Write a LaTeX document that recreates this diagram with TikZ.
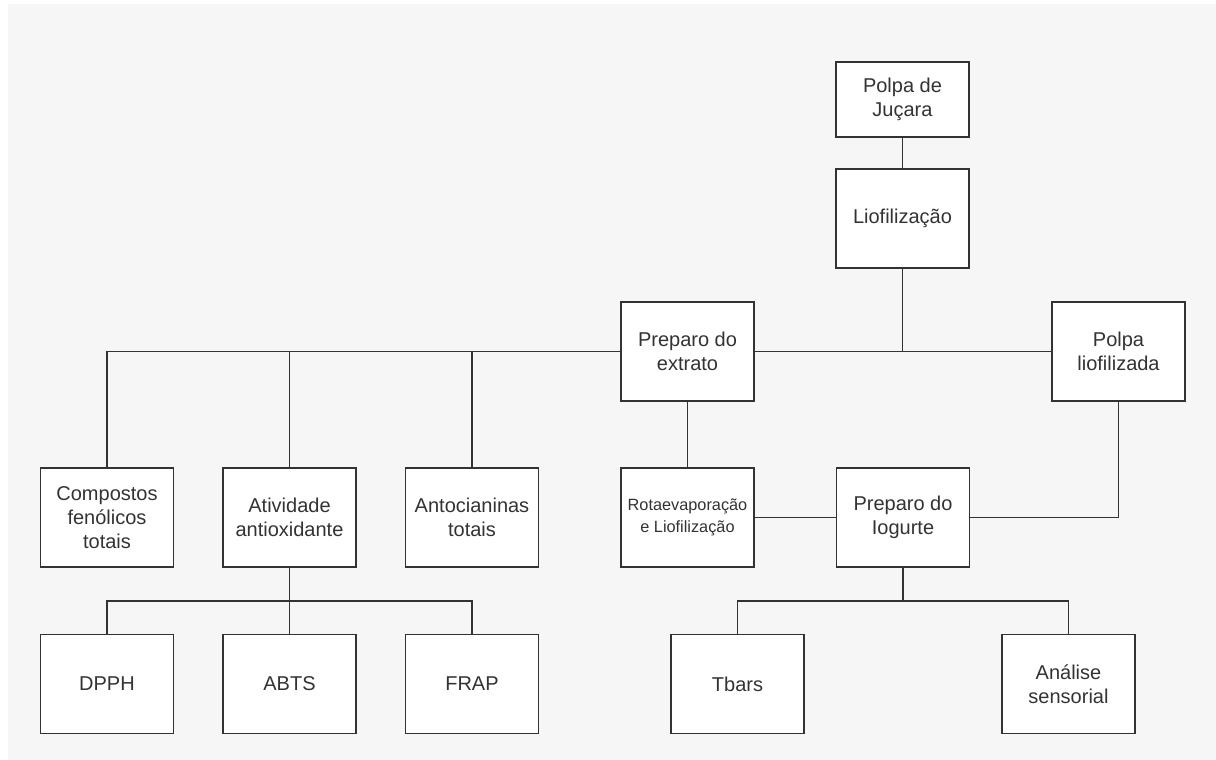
\documentclass[tikz,border=0pt]{standalone}
\usepackage{fontspec}
\setmainfont{Liberation Sans}
\definecolor{bggray}{HTML}{F6F6F6}
\definecolor{ink}{HTML}{333333}
\begin{document}
\begin{tikzpicture}[x=1pt,y=-1pt,
  box/.style={draw=ink, fill=white, line width=1.6pt, minimum width=133pt, minimum height=99pt,
    inner sep=0pt, align=center, text=ink, font=\fontsize{20}{24}\selectfont},
  smalltext/.style={font=\fontsize{16.3}{21.5}\selectfont},
  conn/.style={draw=ink, line width=1.6pt}]
\useasboundingbox (0,0) rectangle (1216,760);
\fill[white] (0,0) rectangle (1216,760);
\fill[bggray] (8,4) rectangle (1216,760);

\node[box, minimum height=75pt] (juc) at (902.5,99.5) {Polpa de\\Juçara};
\node[box] (lio) at (902.5,218.5) {Liofilização};
\node[box] (ext) at (687.5,351.5) {Preparo do\\extrato};
\node[box] (pol) at (1118.5,351.5) {Polpa\\liofilizada};
\node[box] (comp) at (107,517.5) {Compostos\\fenólicos\\totais};
\node[box] (ativ) at (289.5,517.5) {Atividade\\antioxidante};
\node[box] (anto) at (472,517.5) {Antocianinas\\totais};
\node[box, smalltext] (rota) at (687.5,517.5) {Rotaevaporação\\e Liofilização};
\node[box] (iog) at (903,517.5) {Preparo do\\Iogurte};
\node[box] (dpph) at (107,684) {DPPH};
\node[box] (abts) at (289.5,684) {ABTS};
\node[box] (frap) at (472,684) {FRAP};
\node[box] (tbars) at (737.5,684) {Tbars};
\node[box] (anal) at (1068.5,684) {Análise\\sensorial};

\coordinate (ja) at (289.5,601);
\coordinate (jb) at (903,601);

\draw[conn] (juc) -- (lio);
\draw[conn] (lio.south) -- (lio.south |- pol.west);
\draw[conn] (comp.north) |- (ext.west);
\draw[conn] (ativ.north) -- (ativ.north |- ext.west);
\draw[conn] (anto.north) -- (anto.north |- ext.west);
\draw[conn] (ext.east) -- (pol.west);
\draw[conn] (ext.south) -- (rota.north);
\draw[conn] (rota.east) -- (iog.west);
\draw[conn] (iog.east) -| (pol.south);
\draw[conn] (ativ.south) -- (ja);
\draw[conn] (dpph.north) |- (ja) -| (frap.north);
\draw[conn] (abts.north) -- (abts.north |- ja);
\draw[conn] (iog.south) -- (jb);
\draw[conn] (tbars.north) |- (jb) -| (anal.north);
\end{tikzpicture}
\end{document}
